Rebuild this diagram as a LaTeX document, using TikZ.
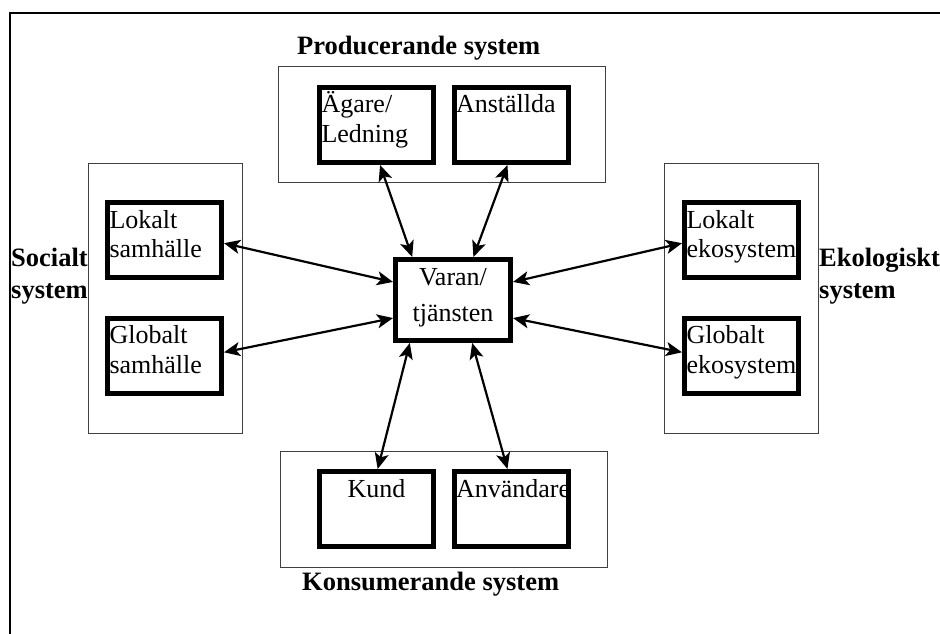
\documentclass[tikz,border=0pt]{standalone}
\usepackage{fontspec}
\setmainfont{Liberation Serif}
\usetikzlibrary{calc}
\usetikzlibrary{arrows.meta}

\begin{document}
\begin{tikzpicture}[x=1pt, y=-1pt,
    partbox/.style={draw, line width=5pt, inner sep=0pt, minimum width=114pt, minimum height=75pt,
        text width=110pt, text height=20pt, text depth=44pt, align=left, font=\fontsize{26}{29.5}\selectfont},
    sysframe/.style={draw=black!75, line width=1pt},
    syslabel/.style={inner sep=0pt, align=left, font=\fontsize{26.5}{32}\selectfont\bfseries},
    linkarrow/.style={{Stealth[length=16pt,width=14pt,inset=4pt]}-{Stealth[length=16pt,width=14pt,inset=4pt]}, line width=2.2pt},
]
    \useasboundingbox (0,0) rectangle (940,634);

    % outer frame (only left and top edge show)
    \draw[line width=2pt] (10,634) -- (10,13) -- (940,13);

    % system frames
    \draw[sysframe] (278,67) rectangle (605,182);
    \draw[sysframe] (280,451) rectangle (607,567);
    \draw[sysframe] (88,163) rectangle (242,433);
    \draw[sysframe] (664,163) rectangle (818,433);

    % system LABELS
    \node[syslabel, anchor=base west] (prodlbl) at (297,55) {Producerande system};
    \node[syslabel, anchor=base west] (konslbl) at (302,590) {Konsumerande system};
    \node[syslabel, anchor=west] (soclbl) at (11,276) {Socialt\\system};
    \node[syslabel, anchor=west] (ekolbl) at (819,276) {Ekologiskt\\system};

    % parts
    \node[partbox] (agare) at (376.5,125) {Ägare/\\Ledning};
    \node[partbox] (anst) at (511,125) {Anställda};
    \node[partbox, align=center] (kund) at (376.5,509) {Kund};
    \node[partbox] (anv) at (511,509) {Användare};
    \node[partbox] (loksam) at (164.5,240) {Lokalt\\samhälle};
    \node[partbox] (globsam) at (164.5,355.5) {Globalt\\samhälle};
    \node[partbox] (lokeko) at (741.5,240) {Lokalt\\ekosystem};
    \node[partbox] (globeko) at (741.5,355.5) {Globalt\\ekosystem};

    % the product in the middle
    \node[partbox, align=center, minimum width=115pt, minimum height=81pt,
        text height=22pt, text depth=52pt] (varan) at (453,300) {Varan/\\[7pt]tjänsten};

    % double arrows
    \draw[linkarrow] ($(agare.south west)!0.53!(agare.south east)$) -- ($(varan.north west)!0.16!(varan.north east)$);
    \draw[linkarrow] ($(anst.south west)!0.47!(anst.south east)$) -- ($(varan.north west)!0.67!(varan.north east)$);
    \draw[linkarrow] ($(kund.north west)!0.51!(kund.north east)$) -- ($(varan.south west)!0.14!(varan.south east)$);
    \draw[linkarrow] ($(anv.north west)!0.47!(anv.north east)$) -- ($(varan.south west)!0.66!(varan.south east)$);
    \draw[linkarrow] ($(loksam.north east)!0.54!(loksam.south east)$) -- ($(varan.north west)!0.29!(varan.south west)$);
    \draw[linkarrow] ($(globsam.north east)!0.46!(globsam.south east)$) -- ($(varan.north west)!0.71!(varan.south west)$);
    \draw[linkarrow] ($(lokeko.north west)!0.54!(lokeko.south west)$) -- ($(varan.north east)!0.29!(varan.south east)$);
    \draw[linkarrow] ($(globeko.north west)!0.46!(globeko.south west)$) -- ($(varan.north east)!0.71!(varan.south east)$);
\end{tikzpicture}
\end{document}
